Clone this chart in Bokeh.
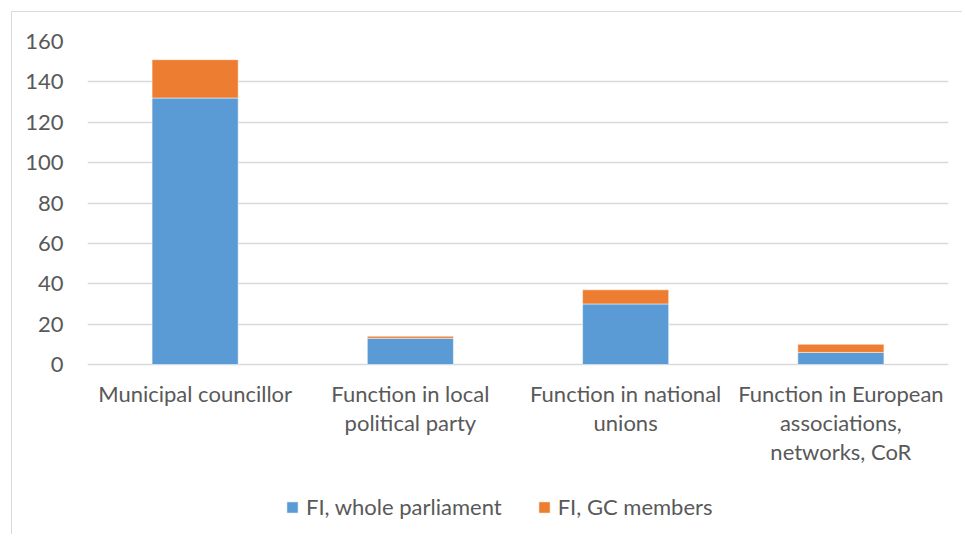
from bokeh.plotting import figure
from bokeh.models import ColumnDataSource, Legend, LegendItem, FactorRange
from bokeh.embed import file_html
from bokeh.resources import INLINE

categories = [
    "Municipal councillor",
    "Function in local\npolitical party",
    "Function in national\nunions",
    "Function in European\nassociations,\nnetworks, CoR",
]
whole_parliament = [132, 13, 30, 6]
gc_members = [19, 1, 7, 4]
series_names = ["FI, whole parliament", "FI, GC members"]
y_ticks = [0, 20, 40, 60, 80, 100, 120, 140, 160]

FONT = "Lato"
TXT = "#595959"

source = ColumnDataSource(dict(cat=categories, whole=whole_parliament, gc=gc_members))

# frame spans down to the bottom of the chart so the legend fits inside it;
# only ticks 0..160 are shown
p = figure(
    x_range=FactorRange(*categories, range_padding=0, factor_padding=0),
    y_range=(-84.7, 160),
    width=951, height=523,
    output_backend="svg", toolbar_location=None,
    min_border_left=75, min_border_right=15, min_border_top=29, min_border_bottom=0,
)
p.styles = {"margin-top": "11px", "margin-left": "11px",
            "border-top": "1px solid #d9d9d9", "border-left": "1px solid #d9d9d9"}
p.outline_line_color = None

renderers = p.vbar_stack(["whole", "gc"], x="cat", width=0.4, source=source,
                         color=["#5B9BD5", "#ED7D31"], line_color="white", line_width=0.5)

p.yaxis.ticker = y_ticks
p.yaxis.axis_line_color = None
p.yaxis.major_tick_line_color = None
p.yaxis.minor_tick_line_color = None
p.yaxis.major_tick_out = 0
p.yaxis.major_label_standoff = 24
p.yaxis.major_label_text_font = FONT
p.yaxis.major_label_text_font_size = "22px"
p.yaxis.major_label_text_color = TXT

p.xaxis.fixed_location = 0
p.xaxis.axis_line_color = None
p.xaxis.major_tick_line_color = None
p.xaxis.major_tick_out = 0
p.xaxis.major_label_standoff = 15
p.xaxis.major_label_text_font = FONT
p.xaxis.major_label_text_font_size = "22px"
p.xaxis.major_label_text_color = TXT
p.xaxis.major_label_text_line_height = 1.08

p.xgrid.grid_line_color = None
p.ygrid.grid_line_color = "#d9d9d9"
p.ygrid.grid_line_width = 1.5
p.ygrid.ticker = y_ticks

legend = Legend(
    items=[LegendItem(label=series_names[0], renderers=[renderers[0]]),
           LegendItem(label=series_names[1], renderers=[renderers[1]])],
    orientation="horizontal",
    location=(198, 15),
    padding=0, margin=0, spacing=35,
    glyph_width=14, glyph_height=14, label_standoff=7,
    label_text_font=FONT, label_text_font_size="22px", label_text_color=TXT,
    border_line_color=None, background_fill_alpha=0,
)
p.add_layout(legend, "center")

open("out.html", "w").write(file_html(p, INLINE))
